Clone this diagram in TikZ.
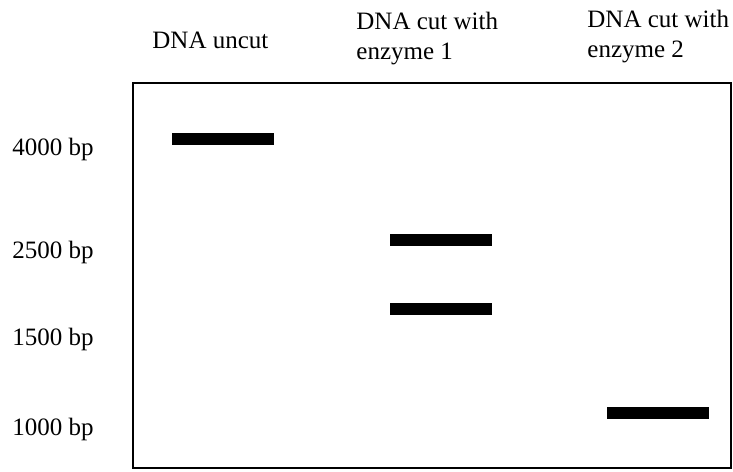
\documentclass[tikz,border=0pt]{standalone}
\usepackage{fontspec}
\setmainfont{Liberation Serif}
\usetikzlibrary{positioning}

\begin{document}
\begin{tikzpicture}[x=0.5pt,y=-0.5pt]

	\tikzstyle{gel}=[draw, line width=1pt, rectangle, minimum width=299pt, minimum height=192.5pt, inner sep=0pt]
	\tikzstyle{band}=[fill=black, rectangle, minimum width=51pt, minimum height=6pt, inner sep=0pt]
	\tikzstyle{lane}=[anchor=base west, align=left, inner sep=0pt, font=\fontsize{12.5}{15}\selectfont]
	\tikzstyle{size}=[anchor=base west, inner sep=0pt, font=\fontsize{12.5}{15}\selectfont]

	\useasboundingbox (0,0) rectangle (733,471);

	% gel
	\node[gel] (gel) at (432,275.5) {};

	% lane titles (base = last line)
	\node[lane] (uncut) at (152,48) {DNA uncut};
	\node[lane] (enz1) at (356,59) {DNA cut with\\enzyme 1};
	\node[lane] (enz2) at (587,57) {DNA cut with\\enzyme 2};

	% size markers
	\node[size] (s4000) at (12,155) {4000 bp};
	\node[size] (s2500) at (12,258) {2500 bp};
	\node[size] (s1500) at (12,345) {1500 bp};
	\node[size] (s1000) at (12,435) {1000 bp};

	% bands
	\node[band] (b1) at (222.5,138.5) {};
	\node[band] (b2) at (440.5,240) {};
	\node[band] (b3) at (440.5,309) {};
	\node[band] (b4) at (657.5,412.5) {};

\end{tikzpicture}
\end{document}
